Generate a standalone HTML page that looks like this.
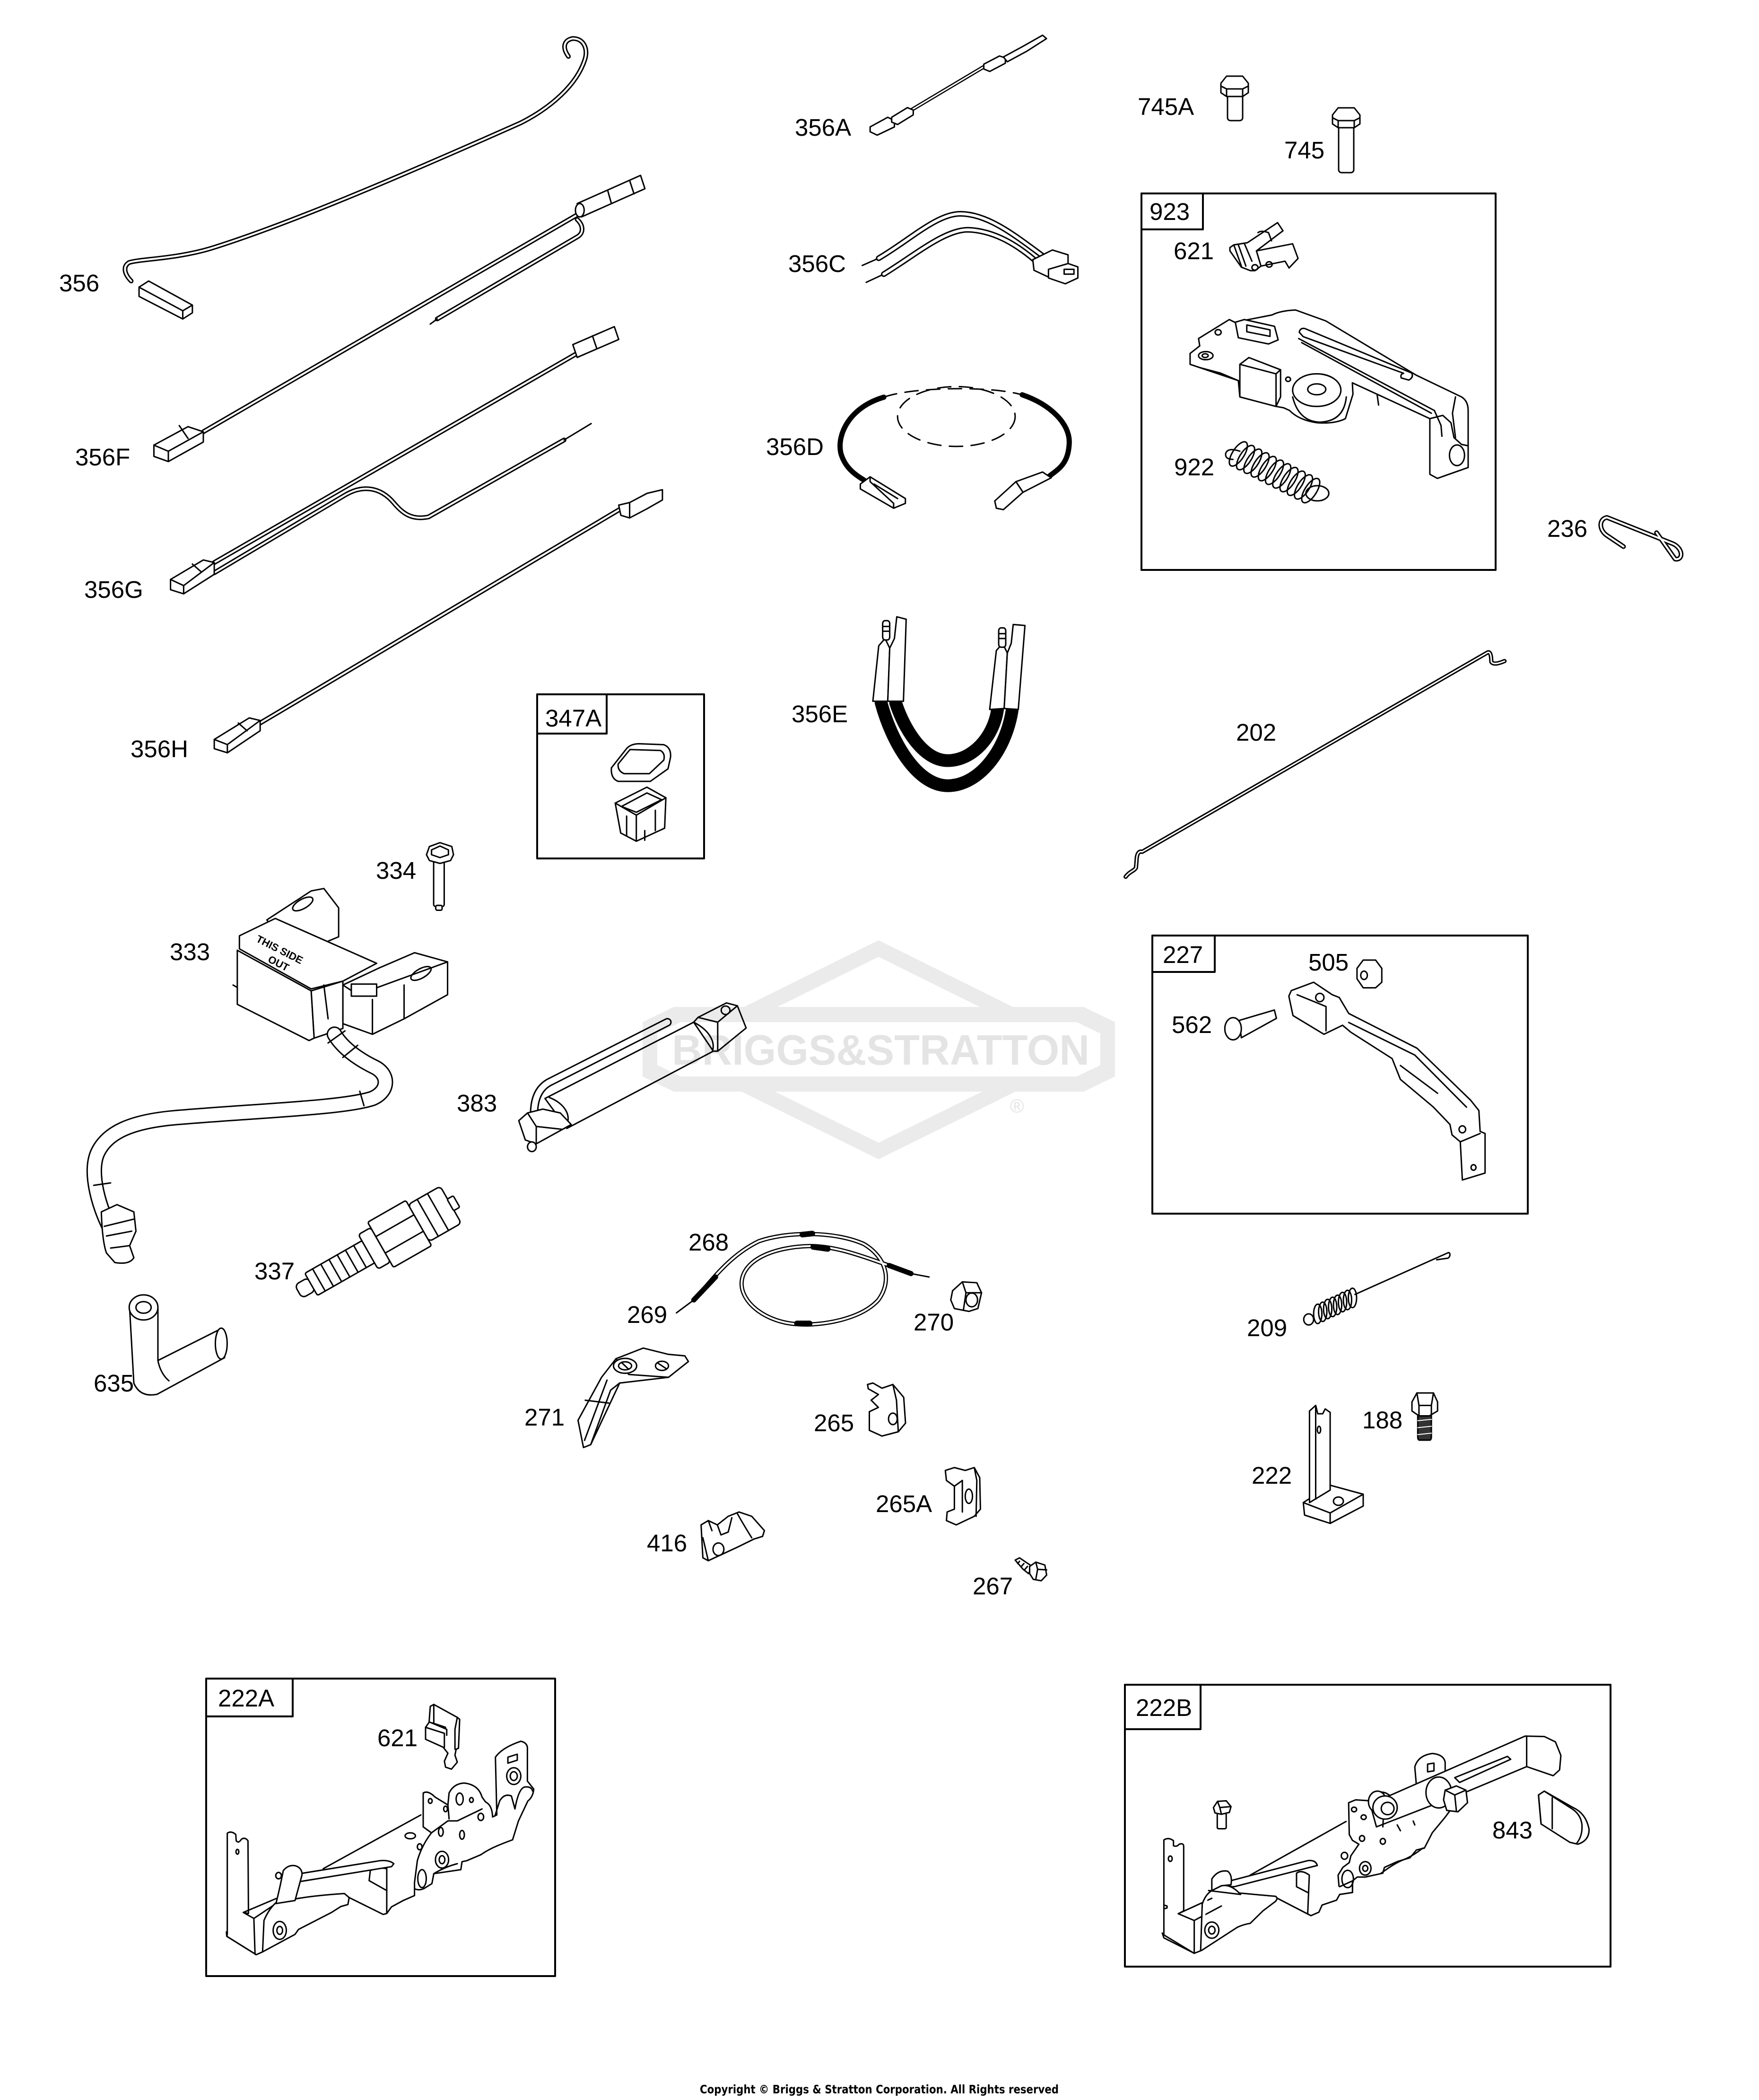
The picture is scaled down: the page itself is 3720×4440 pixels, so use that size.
<!DOCTYPE html>
<html>
<head>
<meta charset="utf-8">
<title>Briggs &amp; Stratton parts diagram</title>
<style>
html,body{margin:0;padding:0;background:#fff;}
svg{display:block;}
path,polygon,polyline,ellipse,circle,line,rect{vector-effect:non-scaling-stroke;stroke-linejoin:round;stroke-linecap:round;}
.s{fill:#fff;stroke:#000;stroke-width:3;}
.n{fill:none;stroke:#000;stroke-width:3;}
.b{fill:none;stroke:#000;stroke-width:4;}
.t1{fill:none;stroke:#000;stroke-width:10;}
.t2{fill:none;stroke:#fff;stroke-width:4;}
.l{font-family:"Liberation Sans",Arial,sans-serif;font-size:51px;fill:#000;}
.logo{mix-blend-mode:multiply;}
</style>
</head>
<body>
<svg xmlns="http://www.w3.org/2000/svg" width="3720" height="4440" viewBox="0 0 3720 4440">
<rect x="0" y="0" width="3720" height="4440" fill="#fff"/>

<!-- Boxes -->
<rect x="2414" y="409" width="749" height="796" class="b"/>
<rect x="2414" y="409" width="130" height="76" class="b"/>
<rect x="1136" y="1468" width="353" height="347" class="b"/>
<rect x="1136" y="1468" width="147" height="83" class="b"/>
<rect x="2437" y="1978" width="794" height="588" class="b"/>
<rect x="2437" y="1978" width="132" height="77" class="b"/>
<rect x="436" y="3549" width="738" height="629" class="b"/>
<rect x="436" y="3549" width="183" height="80" class="b"/>
<rect x="2379" y="3562" width="1027" height="596" class="b"/>
<rect x="2379" y="3562" width="160" height="94" class="b"/>

<!-- ===== Top-left wires (356, 356F, 356G, 356H) ===== -->
<g transform="translate(0,0) scale(0.9247,1.0842)">
 <path class="t1" d="M300 548 C285 535 280 520 295 512 C320 505 400 505 480 485 C650 440 900 350 1190 240 C1260 210 1320 165 1338 115 C1345 95 1335 75 1310 75 C1290 78 1285 92 1300 110"/>
 <path class="t2" d="M300 548 C285 535 280 520 295 512 C320 505 400 505 480 485 C650 440 900 350 1190 240 C1260 210 1320 165 1338 115 C1345 95 1335 75 1310 75 C1290 78 1285 92 1300 110"/>
 <polygon class="s" points="318,560 340,548 440,595 440,610 418,622 318,578"/>
 <path class="n" d="M318 560 L418 606 L440 595 M418 606 L418 622"/>
 <path class="t1" d="M465 842 L1318 420"/>
 <path class="t2" d="M465 842 L1318 420"/>
 <path class="t1" d="M1320 428 C1335 440 1335 455 1320 462 L1000 622"/>
 <path class="t2" d="M1320 428 C1335 440 1335 455 1320 462 L1000 622"/>
 <path class="n" d="M1000 622 L984 632"/>
 <polygon class="s" points="1320,397 1465,342 1475,368 1330,423"/>
 <ellipse class="s" cx="1326" cy="410" rx="10" ry="13"/>
 <path class="n" d="M1390 372 L1398 396 M1440 352 L1450 378"/>
 <polygon class="s" points="352,868 430,832 465,842 465,862 385,900 352,890"/>
 <path class="n" d="M352 868 L385 880 L465 842 M385 880 L385 900 M410 830 L430 855"/>
 <path class="t1" d="M490 1097 L1318 690"/>
 <path class="t2" d="M490 1097 L1318 690"/>
 <polygon class="s" points="1310,672 1405,637 1415,662 1320,697"/>
 <path class="n" d="M1355 655 L1365 680"/>
 <path class="t1" d="M490 1117 L790 965 C830 945 870 950 900 980 C920 1000 940 1015 980 1008 L1290 858"/>
 <path class="t2" d="M490 1117 L790 965 C830 945 870 950 900 980 C920 1000 940 1015 980 1008 L1290 858"/>
 <path class="n" d="M1290 858 L1352 826"/>
 <polygon class="s" points="390,1130 465,1092 490,1097 490,1120 420,1158 390,1150"/>
 <path class="n" d="M390 1130 L420 1142 L490 1097 M420 1142 L420 1158 M440 1100 L460 1115"/>
 <path class="t1" d="M595 1410 L1420 992"/>
 <path class="t2" d="M595 1410 L1420 992"/>
 <polygon class="s" points="1415,985 1440,980 1480,962 1515,955 1515,975 1480,992 1440,1010 1420,1005"/>
 <path class="n" d="M1440 980 L1440 1010"/>
 <polygon class="s" points="490,1442 570,1400 595,1405 595,1425 520,1468 490,1460"/>
 <path class="n" d="M490 1442 L520 1452 L595 1405 M520 1452 L520 1468 M545 1410 L565 1425"/>
</g>

<!-- ===== Middle top (356A, 356C, 356D, 356E) ===== -->
<g transform="translate(1550,100) scale(0.829,1.0204)">
 <path class="t1" d="M455 130 L645 38" style="stroke-width:8"/>
 <path class="t2" d="M455 130 L645 38" style="stroke-width:3"/>
 <polygon class="s" points="350,165 395,145 412,152 412,165 368,182 350,175"/>
 <polygon class="s" points="405,145 445,125 460,130 460,140 420,160 405,155"/>
 <polygon class="s" points="640,35 680,18 695,22 695,33 655,50 640,45"/>
 <polygon class="s" points="690,20 740,-2 790,-25 800,-18 750,8 700,30"/>
 <path class="n" d="M330 452 L372 437 M340 487 L385 470"/>
 <path class="t1" d="M372 437 C450 400 520 345 580 345 C650 345 720 390 790 432" style="stroke-width:12"/>
 <path class="t2" d="M372 437 C450 400 520 345 580 345 C650 345 720 390 790 432" style="stroke-width:6"/>
 <path class="t1" d="M385 470 C465 430 540 378 600 378 C670 380 730 412 780 448" style="stroke-width:12"/>
 <path class="t2" d="M385 470 C465 430 540 378 600 378 C670 380 730 412 780 448" style="stroke-width:6"/>
 <polygon class="s" points="765,440 815,420 855,430 855,460 810,478 768,462"/>
 <polygon class="s" points="805,460 855,448 880,455 880,478 848,490 805,478"/>
 <rect class="n" x="845" y="460" width="25" height="10"/>
 <path d="M385 725 C300 745 265 800 275 840 C285 870 310 885 335 897" fill="none" stroke="#000" stroke-width="11"/>
 <path d="M738 720 C810 740 860 780 858 820 C856 860 835 872 808 888" fill="none" stroke="#000" stroke-width="11"/>
 <path class="n" d="M385 725 C450 705 650 700 738 720" stroke-dasharray="28 18"/>
 <ellipse class="n" cx="570" cy="765" rx="150" ry="62" stroke-dasharray="28 18"/>
 <polygon class="s" points="325,905 350,890 440,935 440,945 410,955 325,915"/>
 <path class="n" d="M350 890 L350 900 L410 945 L410 955 M360 905 L420 935"/>
 <polygon class="s" points="722,900 790,880 812,892 740,922"/>
 <polygon class="s" points="668,940 722,900 740,922 690,958 672,955"/>
 <path d="M378 1358 C405 1440 470 1530 548 1530 C625 1530 695 1460 712 1375" fill="none" stroke="#000" stroke-width="27"/>
 <path d="M415 1358 C440 1420 490 1478 548 1478 C610 1478 665 1430 675 1372" fill="none" stroke="#000" stroke-width="27"/>
 <polygon class="s" points="357,1355 395,1355 400,1245 388,1225 372,1240"/>
 <polygon class="s" points="395,1355 435,1355 442,1185 418,1180 412,1225 400,1245"/>
 <rect class="s" x="382" y="1188" width="18" height="40" rx="6"/>
 <path class="n" d="M384 1200 L398 1200 M384 1210 L398 1210"/>
 <polygon class="s" points="655,1372 692,1370 700,1255 688,1235 672,1250"/>
 <polygon class="s" points="692,1370 728,1372 745,1198 715,1196 710,1235 700,1255"/>
 <rect class="s" x="678" y="1203" width="18" height="40" rx="6"/>
 <path class="n" d="M680 1215 L694 1215 M680 1225 L694 1225"/>
</g>

<!-- 745A / 745 bolts -->
<g>
 <rect class="s" x="2596" y="200" width="32" height="55" rx="6"/>
 <polygon class="s" points="2582,176 2594,161 2628,161 2640,176 2640,196 2628,204 2594,204 2582,196"/>
 <path class="n" d="M2582 182 L2594 188 L2628 188 L2640 182 M2594 188 L2594 204 M2628 188 L2628 204"/>
 <rect class="s" x="2831" y="266" width="32" height="99" rx="6"/>
 <polygon class="s" points="2818,243 2830,228 2864,228 2876,243 2876,262 2864,270 2830,270 2818,262"/>
 <path class="n" d="M2818 249 L2830 255 L2864 255 L2876 249 M2830 255 L2830 270 M2864 255 L2864 270"/>
</g>

<!-- ===== 923 box contents ===== -->
<g transform="translate(2300,380) scale(0.6378,0.574)">
 <polygon class="s" points="472,250 485,240 530,232 630,158 648,188 560,262 680,236 698,290 668,325 655,300 575,318 555,335 540,335 510,322 472,262"/>
 <path class="n" d="M485 240 L510 318 M500 240 L525 318 M520 235 L545 300 M560 262 L575 318 M565 195 Q575 185 600 195 L610 225"/>
 <ellipse class="n" cx="555" cy="323" rx="10" ry="10"/>
 <ellipse class="n" cx="602" cy="312" rx="10" ry="10"/>
 <path class="s" d="M340 640 L372 612 L368 585 L470 515 L488 525 L520 518 L612 498 Q640 482 690 480 L790 520 L1090 720 L1240 800 Q1262 815 1262 850 L1262 1060 L1160 1100 L1135 1085 L1135 880 L960 790 L878 748 L880 790 L855 880 Q820 900 760 895 Q700 885 670 850 L650 840 L625 835 L505 800 L500 740 L440 712 L372 692 L340 680 Z"/>
 <path class="s" d="M702 562 Q705 545 720 548 L1075 712 Q1082 728 1065 738 L1040 730 Q1036 716 1048 713 L715 578 Z"/>
 <path class="n" d="M700 585 L1150 850 L1172 905 L1175 945 M710 600 L1140 860 M1135 880 L1178 868 L1205 895 L1215 950 L1240 975 L1262 980 M1220 800 L1210 860 L1220 950 M372 692 L500 740 M960 790 L965 830"/>
 <ellipse class="n" cx="1225" cy="1015" rx="25" ry="38"/>
 <polygon class="s" points="490,525 520,515 620,540 632,590 600,605 500,582"/>
 <polygon class="n" points="528,535 605,553 605,577 528,560"/>
 <polygon class="s" points="505,680 535,655 640,700 640,800 625,835 505,800"/>
 <path class="n" d="M505 680 L625 715 L640 700 M625 715 L625 835"/>
 <path class="n" d="M680 800 Q700 890 770 893 Q850 890 858 800"/>
 <ellipse class="s" cx="760" cy="775" rx="80" ry="60"/>
 <ellipse class="n" cx="760" cy="772" rx="30" ry="20"/>
 <ellipse class="n" cx="433" cy="562" rx="10" ry="10"/>
 <ellipse class="n" cx="392" cy="648" rx="24" ry="15"/>
 <ellipse class="n" cx="390" cy="648" rx="10" ry="7"/>
 <ellipse class="n" cx="665" cy="735" rx="8" ry="8"/>
 <path class="n" d="M505 1000 Q465 985 458 1008 Q455 1030 482 1030"/>
 <ellipse class="n" cx="500" cy="1010" rx="20" ry="50" transform="rotate(29 500 1010)"/>
 <ellipse class="n" cx="524" cy="1023.5" rx="20" ry="50" transform="rotate(29 524 1023.5)"/>
 <ellipse class="n" cx="548" cy="1037" rx="20" ry="50" transform="rotate(29 548 1037)"/>
 <ellipse class="n" cx="572" cy="1050.5" rx="20" ry="50" transform="rotate(29 572 1050.5)"/>
 <ellipse class="n" cx="596" cy="1064" rx="20" ry="50" transform="rotate(29 596 1064)"/>
 <ellipse class="n" cx="620" cy="1077.5" rx="20" ry="50" transform="rotate(29 620 1077.5)"/>
 <ellipse class="n" cx="644" cy="1091" rx="20" ry="50" transform="rotate(29 644 1091)"/>
 <ellipse class="n" cx="668" cy="1104.5" rx="20" ry="50" transform="rotate(29 668 1104.5)"/>
 <ellipse class="n" cx="692" cy="1118" rx="20" ry="50" transform="rotate(29 692 1118)"/>
 <ellipse class="n" cx="716" cy="1131.5" rx="20" ry="50" transform="rotate(29 716 1131.5)"/>
 <ellipse class="n" cx="740" cy="1145" rx="20" ry="50" transform="rotate(29 740 1145)"/>
 <ellipse class="n" cx="762" cy="1155" rx="38" ry="28"/>
</g>

<!-- ===== Left middle (347A, 334, 333, 337, 635) ===== -->
<g transform="translate(100,1450) scale(0.893,1.0204)">
 <path class="s" d="M1336 170 L1372 130 Q1382 120 1402 120 L1460 122 Q1478 128 1476 148 L1470 172 L1428 198 L1352 198 Q1334 192 1336 170 Z"/>
 <path class="s" d="M1352 162 L1380 132 L1452 134 Q1464 140 1460 154 L1426 182 L1366 182 Q1350 176 1352 162 Z"/>
 <polygon class="s" points="1345,243 1420,210 1465,232 1462,295 1395,322 1358,305"/>
 <path class="n" d="M1345 243 L1395 268 L1465 232 M1395 268 L1395 322 M1360 250 L1420 222 L1455 236 L1395 262 Z M1372 270 L1372 310 M1440 258 L1440 300 M1415 300 L1415 320"/>
 <rect class="s" x="915" y="362" width="25" height="95" rx="4"/>
 <rect class="s" x="920" y="455" width="15" height="10" rx="3"/>
 <polygon class="s" points="898,350 905,333 930,325 958,333 962,350 955,362 930,368 905,362"/>
 <polygon class="n" points="910,340 930,332 950,340 950,350 930,356 910,350"/>
 <polygon class="s" points="520,485 625,425 655,420 690,460 690,520 580,560"/>
 <ellipse class="n" cx="605" cy="452" rx="26" ry="10" transform="rotate(-25 605 452)"/>
 <polygon class="s" points="700,620 785,585 870,553 948,572 948,640 845,690 770,722 700,700"/>
 <path class="n" d="M735 640 L948 572 M770 650 L770 722 M845 620 L845 690 M735 640 L700 620"/>
 <ellipse class="n" cx="885" cy="596" rx="26" ry="10" transform="rotate(-25 885 596)"/>
 <polygon class="s" points="455,518 540,482 780,575 700,612 625,628 455,545"/>
 <polygon class="s" points="450,548 625,632 632,730 620,735 450,660"/>
 <polygon class="s" points="625,632 700,612 700,710 632,730"/>
 <rect class="s" x="720" y="618" width="60" height="25"/>
 <path class="n" d="M440 620 L450 625 M655 620 L665 690"/>
 <path d="M680 722 C700 752 740 775 775 790 C810 805 810 840 770 855 C700 875 500 880 300 895 C200 903 140 925 118 970 C100 1010 120 1080 158 1140" fill="none" stroke="#000" stroke-width="33"/>
 <path d="M680 722 C700 752 740 775 775 790 C810 805 810 840 770 855 C700 875 500 880 300 895 C200 903 140 925 118 970 C100 1010 120 1080 158 1140" fill="none" stroke="#fff" stroke-width="27"/>
 <path class="n" d="M665 740 L705 715 M700 770 L735 745 M740 840 L750 870 M110 1035 L150 1030"/>
 <path class="s" d="M128 1090 L165 1075 L205 1090 L210 1130 L195 1160 L205 1185 Q195 1200 160 1195 L140 1175 Q130 1150 128 1090 Z"/>
 <path class="n" d="M135 1120 L205 1105 M140 1140 L200 1130 M150 1165 L195 1160"/>
 <path class="s" d="M195 1290 L205 1445 Q220 1475 260 1468 L420 1392 L405 1335 L262 1398 L262 1290 Z"/>
 <path class="n" d="M262 1398 Q268 1425 288 1440"/>
 <ellipse class="s" cx="228" cy="1288" rx="34" ry="26"/>
 <ellipse class="n" cx="228" cy="1288" rx="18" ry="12"/>
 <ellipse class="s" cx="412" cy="1363" rx="14" ry="32"/>
</g>

<text x="540" y="1990" font-family="Liberation Sans, sans-serif" font-weight="bold" font-size="22" transform="rotate(27 540 1990)">THIS SIDE</text>
<text x="565" y="2033" font-family="Liberation Sans, sans-serif" font-weight="bold" font-size="22" transform="rotate(27 565 2033)">OUT</text>

<!-- 337 spark plug -->
<g transform="translate(631,2731) rotate(-29.7)">
 <rect class="s" x="0" y="-16" width="33" height="32" rx="10"/>
 <rect class="s" x="31" y="-27" width="140" height="54" rx="4"/>
 <path class="n" d="M50 -27 L50 27 M70 -27 L70 27 M90 -27 L90 27 M110 -27 L110 27 M130 -27 L130 27 M150 -27 L150 27"/>
 <rect class="s" x="170" y="-42" width="30" height="84" rx="6"/>
 <rect class="s" x="200" y="-55" width="93" height="110" rx="4"/>
 <path class="n" d="M200 -20 L293 -20 M200 20 L293 20"/>
 <rect class="s" x="293" y="-45" width="78" height="90" rx="8"/>
 <path class="n" d="M315 -45 L315 45 M340 -45 L340 45"/>
 <rect class="s" x="370" y="-14" width="15" height="28" rx="3"/>
</g>

<!-- ===== 383 tool ===== -->
<g transform="translate(1000,1900) scale(0.9247,0.4082)">
 <path class="t1" d="M140 1115 C140 1040 150 975 180 945 L445 640" style="stroke-width:18"/>
 <path class="t2" d="M140 1115 C140 1040 150 975 180 945 L445 640" style="stroke-width:12"/>
 <polygon class="s" points="165,1035 505,640 550,790 215,1190"/>
 <path class="s" d="M505 640 C540 680 555 740 548 790 L560 790 L625 670 L605 555 L580 540 L515 615 Z"/>
 <path class="n" d="M515 615 L560 640 L605 555 M560 640 L560 790"/>
 <ellipse class="n" cx="578" cy="578" rx="10" ry="22"/>
 <path class="n" d="M175 1030 C210 1060 230 1130 210 1190"/>
 <polygon class="s" points="105,1150 125,1110 160,1090 200,1110 225,1170 205,1195 145,1270 120,1250"/>
 <path class="n" d="M125 1110 L145 1180 L205 1195 M145 1180 L145 1270"/>
 <ellipse class="s" cx="135" cy="1285" rx="10" ry="25"/>
</g>

<!-- ===== Middle lower (268-271, 265, 265A, 416, 267) ===== -->
<g transform="translate(1100,2500) scale(0.7653,0.6059)">
 <path class="t1" d="M480 410 C520 360 570 260 660 205 C740 170 870 170 950 215 C1010 260 1030 340 990 410 C940 480 830 500 770 495 C680 490 610 420 612 350 C615 270 700 225 800 222 C880 222 960 265 1020 290" style="stroke-width:9"/>
 <path class="t2" d="M480 410 C520 360 570 260 660 205 C740 170 870 170 950 215 C1010 260 1030 340 990 410 C940 480 830 500 770 495 C680 490 610 420 612 350 C615 270 700 225 800 222 C880 222 960 265 1020 290" style="stroke-width:4"/>
 <path d="M540 330 L480 410" fill="none" stroke="#000" stroke-width="11" stroke-dasharray="3 3"/>
 <path class="n" d="M480 410 L432 455"/>
 <path d="M1020 290 L1080 318" fill="none" stroke="#000" stroke-width="11" stroke-dasharray="3 3"/>
 <path class="n" d="M1080 318 L1130 330"/>
 <path d="M780 182 L810 178" fill="none" stroke="#000" stroke-width="12" stroke-dasharray="3 3"/>
 <path d="M810 225 L850 232" fill="none" stroke="#000" stroke-width="12" stroke-dasharray="3 3"/>
 <path d="M765 492 L800 492" fill="none" stroke="#000" stroke-width="12" stroke-dasharray="3 3"/>
 <polygon class="s" points="1195,378 1222,347 1262,350 1275,385 1265,440 1240,450 1200,440 1190,410"/>
 <path class="n" d="M1222 347 L1232 385 L1275 385 M1232 385 L1225 445"/>
 <ellipse class="n" cx="1248" cy="410" rx="16" ry="24"/>
 <polygon class="s" points="160,830 175,925 195,915 275,700 410,680 440,650 465,625 455,605 410,600 340,578 265,615 225,680"/>
 <path class="n" d="M178 900 L240 690 M195 915 L250 725 L275 700 M180 760 L245 770 M265 615 L300 670 L410 680"/>
 <ellipse class="s" cx="290" cy="640" rx="32" ry="26"/>
 <ellipse class="n" cx="290" cy="640" rx="18" ry="14"/>
 <path class="n" d="M280 628 L300 652"/>
 <ellipse class="s" cx="392" cy="640" rx="18" ry="16"/>
 <path class="n" d="M380 630 L404 650"/>
 <polygon class="s" points="960,705 975,700 1000,718 1030,705 1060,750 1065,840 1045,870 1000,885 965,865 965,800 990,785 970,760 990,740 962,720"/>
 <path class="n" d="M1030 705 L1040 760 L1045 870"/>
 <ellipse class="n" cx="1030" cy="825" rx="12" ry="20"/>
 <polygon class="s" points="1175,1005 1200,995 1230,1005 1255,995 1270,1030 1272,1140 1255,1165 1205,1195 1178,1180 1180,1150 1200,1140 1200,1060 1178,1040"/>
 <path class="n" d="M1255 995 L1262 1040 L1260 1165 M1200 1060 L1222 1040 L1222 1150"/>
 <ellipse class="n" cx="1240" cy="1095" rx="10" ry="25"/>
 <polygon class="s" points="500,1195 520,1180 545,1195 575,1165 605,1150 640,1165 675,1215 670,1235 645,1245 605,1270 520,1320 505,1310"/>
 <path class="n" d="M600 1155 Q620 1200 640 1240 M545 1195 L555 1230 L575 1220 L585 1170 M520 1180 L530 1215 M505 1240 L520 1320"/>
 <ellipse class="n" cx="548" cy="1280" rx="15" ry="22"/>
 <polygon class="s" points="1368,1318 1380,1310 1415,1340 1405,1365 1390,1350"/>
 <path class="n" d="M1380 1322 L1375 1330 M1392 1330 L1385 1340 M1402 1340 L1395 1350"/>
 <polygon class="s" points="1408,1340 1425,1325 1450,1335 1455,1370 1440,1390 1418,1385 1408,1365"/>
 <path class="n" d="M1425 1325 L1430 1350 L1455 1352 M1430 1350 L1425 1385"/>
</g>

<!-- ===== Right side (236, 202, 227, 209, 188, 222) ===== -->
<g transform="translate(2350,1050) scale(0.8737,1.4668)">
 <path class="t1" d="M1240 72 L1200 56 C1180 48 1180 32 1200 30 L1360 68 C1385 75 1385 92 1365 90 L1320 52" style="stroke-width:10"/>
 <path class="t2" d="M1240 72 L1200 56 C1180 48 1180 32 1200 30 L1360 68 C1385 75 1385 92 1365 90 L1320 52" style="stroke-width:4"/>
 <path class="t1" d="M35 548 C45 540 55 540 60 535 L62 520 C64 512 70 511 75 512 L910 225 C918 222 920 230 920 238 C925 243 940 240 952 237" style="stroke-width:9"/>
 <path class="t2" d="M35 548 C45 540 55 540 60 535 L62 520 C64 512 70 511 75 512 L910 225 C918 222 920 230 920 238 C925 243 940 240 952 237" style="stroke-width:3"/>
 <polygon class="s" points="595,680 610,668 640,668 655,680 655,700 640,708 610,708 595,695"/>
 <ellipse class="n" cx="612" cy="690" rx="8" ry="6"/>
 <polygon class="s" points="310,755 395,740 400,752 315,780"/>
 <ellipse class="s" cx="295" cy="767" rx="20" ry="16"/>
 <polygon class="s" points="430,720 436,712 490,700 535,718 552,722 575,745 740,795 870,870 890,885 893,915 905,918 905,975 850,985 845,930 825,920 820,905 780,880 700,840 680,810 580,772 560,762 515,775 440,748"/>
 <path class="n" d="M575 758 L735 805 L860 880 M450 718 L520 735 L520 770 M700 820 L790 860 M845 930 L893 918"/>
 <ellipse class="n" cx="850" cy="912" rx="8" ry="5"/>
 <ellipse class="n" cx="877" cy="967" rx="6" ry="4"/>
 <ellipse class="n" cx="505" cy="722" rx="10" ry="6"/>
 <path class="n" d="M590 1150 L815 1090 C822 1088 822 1098 812 1098 L788 1100"/>
 <ellipse class="n" cx="478" cy="1186" rx="12" ry="8"/>
 <ellipse class="n" cx="500" cy="1178" rx="10" ry="14"/>
 <ellipse class="n" cx="512" cy="1175" rx="10" ry="14"/>
 <ellipse class="n" cx="524" cy="1171" rx="10" ry="14"/>
 <ellipse class="n" cx="536" cy="1168" rx="10" ry="14"/>
 <ellipse class="n" cx="548" cy="1165" rx="10" ry="14"/>
 <ellipse class="n" cx="560" cy="1161" rx="10" ry="14"/>
 <ellipse class="n" cx="572" cy="1158" rx="10" ry="14"/>
 <ellipse class="n" cx="584" cy="1155" rx="10" ry="14"/>
 <rect x="742" y="1322" width="33" height="38" rx="4" fill="#333" stroke="#000" stroke-width="3"/>
 <path d="M742 1332 L775 1330 M742 1342 L775 1340 M742 1352 L775 1350" stroke="#fff" stroke-width="2" fill="none"/>
 <polygon class="s" points="728,1305 740,1292 780,1292 790,1305 790,1318 770,1325 745,1325 728,1318"/>
 <path class="n" d="M740 1292 L745 1310 L775 1310 L780 1292 M745 1310 L745 1325 M775 1310 L775 1325"/>
 <polygon class="s" points="465,1450 530,1425 610,1438 610,1455 530,1480 468,1468"/>
 <path class="n" d="M465 1450 L530 1465 L610 1438 M530 1465 L530 1480"/>
 <ellipse class="n" cx="550" cy="1448" rx="12" ry="6"/>
 <polygon class="s" points="480,1318 495,1310 500,1322 512,1322 518,1315 530,1320 530,1432 480,1450"/>
 <path class="n" d="M495 1310 L495 1445"/>
 <ellipse class="n" cx="503" cy="1345" rx="4" ry="5"/>
</g>

<!-- ===== 222A box contents ===== -->
<g transform="translate(420,3530) scale(0.4974,0.4209)">
 <polygon class="s" points="985,185 1000,175 1100,240 1110,250 1105,395 1095,400 1090,430 1100,465 1075,500 1050,490 1045,460 1060,420 1040,390 965,350 965,290 980,265"/>
 <path class="n" d="M965 290 L1045 320 L1045 390 M985 265 L1055 300 L1055 330 M1000 175 L1000 265 M1100 240 L1090 300 L1090 400 M995 268 L1050 290"/>
 <path class="s" d="M918 1135 L918 1070 L930 960 Q950 880 990 820 L955 790 L955 620 Q975 605 1005 640 L1060 680 L1065 620 Q1085 572 1130 570 Q1190 578 1205 640 L1220 665 Q1248 680 1250 740 L1268 730 L1262 440 Q1290 392 1370 360 Q1400 368 1398 400 L1398 560 L1425 600 Q1422 640 1400 660 L1360 760 L1335 855 Q1300 870 1270 885 Q1230 905 1200 930 Q1170 945 1140 960 L1120 965 L1115 1005 L1000 1025 L992 1075 L958 1100 Q935 1112 918 1100 Z"/>
 <path class="s" d="M330 1175 Q420 1140 620 1125 L640 1145 L785 1230 L800 1225 L800 1000 Q760 990 730 1010 L725 1060 L800 1110"/>
 <path class="n" d="M530 1000 L945 730"/>
 <path class="s" d="M405 1030 L770 960 Q810 955 830 975 L820 990 L430 1065 Q400 1060 405 1030 Z"/>
 <path class="s" d="M122 1330 L122 822 Q138 808 158 828 L160 860 Q170 875 182 852 Q198 840 210 860 L212 1225 L190 1220 L235 1250 L240 1430 L245 1432 L120 1340 Z"/>
 <path class="n" d="M118 1318 L120 1340 L245 1432 L272 1418 L410 1330 L425 1305 L565 1220 L605 1190 L635 1180 L640 1145 M800 1225 L820 1192 L870 1160 L918 1135 M190 1220 L330 1150 M235 1250 L330 1175"/>
 <path class="s" d="M272 1418 L278 1260 Q300 1200 330 1170 Q345 1100 360 1010 Q380 980 410 985 Q440 995 440 1030 L410 1160 L330 1175"/>
 <ellipse class="s" cx="345" cy="1310" rx="28" ry="45"/>
 <ellipse class="n" cx="345" cy="1310" rx="12" ry="20"/>
 <ellipse class="s" cx="340" cy="1035" rx="12" ry="16"/>
 <ellipse class="s" cx="1340" cy="535" rx="30" ry="42"/>
 <ellipse class="n" cx="1340" cy="535" rx="15" ry="22"/>
 <polygon class="n" points="1315,440 1355,425 1355,455 1315,470"/>
 <ellipse class="n" cx="1110" cy="650" rx="15" ry="30"/>
 <ellipse class="n" cx="1160" cy="655" rx="8" ry="12"/>
 <ellipse class="n" cx="1200" cy="740" rx="12" ry="18"/>
 <ellipse class="n" cx="1120" cy="830" rx="10" ry="22"/>
 <ellipse class="n" cx="1030" cy="815" rx="10" ry="22"/>
 <ellipse class="n" cx="940" cy="890" rx="10" ry="15"/>
 <ellipse class="s" cx="1035" cy="955" rx="28" ry="42"/>
 <ellipse class="n" cx="1035" cy="955" rx="12" ry="20"/>
 <ellipse class="n" cx="985" cy="660" rx="8" ry="12"/>
 <ellipse class="n" cx="1050" cy="700" rx="8" ry="14"/>
 <ellipse class="s" cx="900" cy="835" rx="22" ry="15"/>
 <ellipse class="n" cx="165" cy="915" rx="6" ry="12"/>
 <ellipse class="n" cx="950" cy="1050" rx="18" ry="45"/>
 <path class="n" d="M990 820 L1060 760 L1100 760 L1205 700 M1280 660 Q1300 620 1330 635 L1345 700 Q1360 600 1385 590 Q1415 585 1420 610 M1280 660 L1260 735 M1000 1025 Q1050 990 1100 975 M1060 680 L1065 750"/>
</g>

<!-- ===== 222B box contents ===== -->
<g transform="translate(2360,3540) scale(0.676,0.4082)">
 <path class="s" d="M700 1140 L695 1040 L710 1000 L730 975 L735 940 L760 880 L740 860 L730 830 L728 665 L750 650 L795 655 L800 625 Q820 600 845 615 L870 640 L880 620 L940 575 L935 480 Q945 420 990 410 Q1025 415 1030 455 L1030 530 L1055 545 L1080 560 L1070 650 L1030 740 L990 820 L965 900 L940 910 L920 950 L880 970 L840 1000 L835 1030 L780 1050 L755 1050 L740 1070 L740 1130 Z"/>
 <polygon class="n" points="975,465 995,460 995,500 975,505"/>
 <path class="s" d="M815 790 L800 700 L840 640 L1280 320 L1340 322 L1375 350 L1392 420 L1388 495 L1368 525 L1285 478 L1095 610 Z"/>
 <path class="n" d="M1285 320 L1285 478 M840 640 L835 790"/>
 <polygon class="s" points="1060,535 1225,425 1235,440 1075,560"/>
 <ellipse class="s" cx="818" cy="660" rx="28" ry="55"/>
 <ellipse class="s" cx="842" cy="690" rx="38" ry="60"/>
 <ellipse class="n" cx="850" cy="695" rx="20" ry="32"/>
 <ellipse class="s" cx="1010" cy="612" rx="40" ry="80"/>
 <polygon class="s" points="1030,600 1065,578 1095,600 1100,665 1070,712 1035,705 1025,650"/>
 <path class="n" d="M1030 600 L1060 625 L1095 600 M1060 625 L1065 705"/>
 <path class="s" d="M290 1120 L400 1135 L500 1150 L505 1160 L610 1250 L635 1232 L645 1195 L690 1170 L700 1140 L740 1130 L740 1070 L700 1100"/>
 <path class="n" d="M600 1240 L605 1040 Q580 1010 565 1030 L565 1100 L600 1130 M420 1040 L720 762"/>
 <path class="s" d="M345 1075 L600 965 Q625 960 630 990 L370 1100 Q345 1100 345 1075 Z"/>
 <path class="s" d="M150 1350 L150 858 Q165 842 180 862 L180 888 Q190 895 198 880 Q212 872 212 892 L212 1225 L195 1240 L245 1275 L245 1445 Z"/>
 <path class="n" d="M145 1340 L150 1365 L245 1445 L268 1430 L380 1310 Q400 1295 420 1290 L460 1225 L500 1175 L505 1160 M195 1240 L300 1160 M245 1275 L330 1200 M150 1195 L160 1200 L160 1210 L150 1215"/>
 <path class="s" d="M265 1430 L270 1190 Q280 1140 300 1120 L330 1095 Q360 1085 390 1140 L290 1120"/>
 <path class="s" d="M300 1120 L300 1060 Q320 1010 350 1020 Q365 1040 360 1090 L330 1095 Z"/>
 <ellipse class="s" cx="300" cy="1325" rx="22" ry="42"/>
 <ellipse class="n" cx="300" cy="1325" rx="10" ry="20"/>
 <ellipse class="s" cx="780" cy="1005" rx="18" ry="35"/>
 <ellipse class="n" cx="780" cy="1005" rx="8" ry="15"/>
 <ellipse class="n" cx="770" cy="850" rx="8" ry="15"/>
 <ellipse class="n" cx="835" cy="865" rx="8" ry="15"/>
 <ellipse class="n" cx="745" cy="700" rx="8" ry="12"/>
 <ellipse class="n" cx="775" cy="740" rx="8" ry="12"/>
 <ellipse class="n" cx="725" cy="1060" rx="18" ry="45"/>
 <ellipse class="n" cx="170" cy="955" rx="6" ry="14"/>
 <ellipse class="n" cx="715" cy="940" rx="10" ry="18"/>
 <path class="n" d="M830 1030 Q870 980 900 960 Q930 940 960 900 M880 780 L890 810 M930 760 L935 780"/>
 <rect class="s" x="317" y="720" width="28" height="80" rx="6"/>
 <polygon class="s" points="305,690 318,658 345,655 360,685 355,715 330,725 310,718"/>
 <path class="n" d="M318 658 L325 690 L360 685 M325 690 L330 725"/>
 <path class="s" d="M1322 625 L1340 605 L1430 690 Q1470 720 1480 800 Q1482 860 1445 880 L1420 870 L1330 775 Z"/>
 <path class="n" d="M1365 640 L1365 800 M1322 625 L1330 775 M1340 605 L1430 700 Q1455 730 1458 780 Q1460 840 1440 878"/>
</g>

<!-- ===== Labels ===== -->
<text class="l" x="125" y="616">356</text>
<text class="l" x="159" y="984">356F</text>
<text class="l" x="178" y="1264">356G</text>
<text class="l" x="276" y="1601">356H</text>
<text class="l" x="1153" y="1536">347A</text>
<text class="l" x="1681" y="287">356A</text>
<text class="l" x="1667" y="575">356C</text>
<text class="l" x="1620" y="962">356D</text>
<text class="l" x="1674" y="1527">356E</text>
<text class="l" x="2406" y="243">745A</text>
<text class="l" x="2716" y="335">745</text>
<text class="l" x="2431" y="465">923</text>
<text class="l" x="2482" y="548">621</text>
<text class="l" x="2483" y="1005">922</text>
<text class="l" x="3272" y="1135">236</text>
<text class="l" x="2614" y="1566">202</text>
<text class="l" x="795" y="1858">334</text>
<text class="l" x="359" y="2030">333</text>
<text class="l" x="966" y="2350">383</text>
<text class="l" x="538" y="2705">337</text>
<text class="l" x="198" y="2942">635</text>
<text class="l" x="1456" y="2644">268</text>
<text class="l" x="1326" y="2797">269</text>
<text class="l" x="1932" y="2813">270</text>
<text class="l" x="1109" y="3014">271</text>
<text class="l" x="1721" y="3026">265</text>
<text class="l" x="1852" y="3197">265A</text>
<text class="l" x="1368" y="3280">416</text>
<text class="l" x="2057" y="3371">267</text>
<text class="l" x="2459" y="2036">227</text>
<text class="l" x="2767" y="2052">505</text>
<text class="l" x="2478" y="2184">562</text>
<text class="l" x="2637" y="2825">209</text>
<text class="l" x="2881" y="3020">188</text>
<text class="l" x="2647" y="3137">222</text>
<text class="l" x="461" y="3608">222A</text>
<text class="l" x="798" y="3692">621</text>
<text class="l" x="2402" y="3628">222B</text>
<text class="l" x="3156" y="3887">843</text>

<!-- Watermark logo (multiplied over parts) -->
<g class="logo">
<polygon points="1858,1988 2326,2220 1858,2451 1390,2220" fill="#ebebeb"/>
<polygon points="1858,2023 2256,2220 1858,2416 1460,2220" fill="#fff"/>
<polygon points="1425,2129 2292,2129 2358,2161 2358,2276 2292,2308 1425,2308 1359,2276 1359,2161" fill="#ebebeb"/>
<polygon points="1440,2161 2277,2161 2327,2185 2327,2252 2277,2276 1440,2276 1390,2252 1390,2185" fill="#fff"/>
<text x="1421" y="2251" font-family="Liberation Sans Narrow, Liberation Sans, sans-serif" font-weight="bold" font-size="90" textLength="883" lengthAdjust="spacingAndGlyphs" fill="#e4e4e4">BRIGGS&amp;STRATTON</text>
<text x="2136" y="2352" font-family="Liberation Sans, sans-serif" font-size="40" fill="#e4e4e4">®</text>
</g>

<text x="1480" y="4426" font-family="DejaVu Sans Condensed, DejaVu Sans, sans-serif" font-weight="bold" font-size="25" textLength="759" lengthAdjust="spacingAndGlyphs" fill="#000">Copyright © Briggs &amp; Stratton Corporation. All Rights reserved</text>
</svg>
</body>
</html>
